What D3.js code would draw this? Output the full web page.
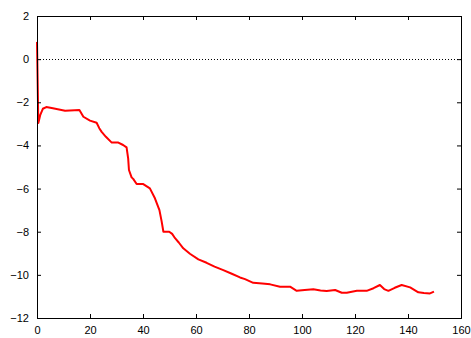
<!DOCTYPE html>
<html>
<head>
<meta charset="utf-8">
<script src="https://cdn.jsdelivr.net/npm/d3@7"></script>
<style>
  body { margin: 0; background: #fff; }
  text { font-family: "Liberation Sans", Arial, sans-serif; font-size: 11px; fill: #000; }
</style>
</head>
<body>
<svg id="chart"></svg>
<script>
const xTicks = [0, 20, 40, 60, 80, 100, 120, 140, 160];
const yTicks = [2, 0, -2, -4, -6, -8, -10, -12];

const seriesX = [0, 0.5, 1.2, 2.2, 3.5, 6, 10.6, 16, 17.5, 20, 22.5, 23.5, 24.4, 26, 28.2, 30.7, 32.5, 33.8, 34.4, 34.7, 35.7,
  36.3, 37.6, 40.1, 42.6, 44.5, 46.2, 47.0, 47.7, 49.9, 51, 52.1, 53.5, 55.2, 57.7, 60.9, 64.0, 67, 70.3, 73.5, 76.6, 78.5, 81.6,
  85, 88, 91.7, 95.5, 98, 101, 104.3, 107, 109.3, 112.5, 115, 116.9, 118.8, 120.7, 124.4, 127, 129.4, 131, 132.6, 135, 137.6, 140.8,
  143.9, 146, 148.3, 149.8];
const seriesY = [0.8, -2.96, -2.6, -2.3, -2.22, -2.28, -2.39, -2.36, -2.67, -2.85, -2.95, -3.2, -3.37, -3.6, -3.87, -3.87, -3.98, -4.09, -4.6, -5.14, -5.48,
  -5.55, -5.79, -5.79, -5.99, -6.45, -7.0, -7.5, -8.0, -8.0, -8.1, -8.3, -8.5, -8.77, -9.02, -9.28, -9.44, -9.62, -9.78, -9.95, -10.12, -10.2, -10.37,
  -10.4, -10.44, -10.55, -10.55, -10.74, -10.7, -10.67, -10.72, -10.75, -10.7, -10.83, -10.83, -10.78, -10.74, -10.74, -10.62, -10.47, -10.66, -10.74, -10.6, -10.47, -10.58,
  -10.81, -10.84, -10.86, -10.78];

const width = 471, height = 338;
const margin = { left: 37, right: 10, top: 16, bottom: 20 };

const svg = d3.select('#chart').attr('width', width).attr('height', height);

const x = d3.scaleLinear().domain([0, 160]).range([margin.left, width - margin.right]);
const y = d3.scaleLinear().domain([-12, 2]).range([height - margin.bottom, margin.top]);

// zero line
svg.append('line')
  .attr('x1', x(0)).attr('x2', x(160))
  .attr('y1', Math.round(y(0)) + 0.5).attr('y2', Math.round(y(0)) + 0.5)
  .attr('stroke', '#000').attr('stroke-width', 1)
  .attr('stroke-dasharray', '1,2');

// data line
const line = d3.line().x((d, i) => x(seriesX[i])).y(d => y(d));
svg.append('path')
  .datum(seriesY)
  .attr('d', line)
  .attr('fill', 'none')
  .attr('stroke', '#ff0000')
  .attr('stroke-width', 2)
  .attr('stroke-linejoin', 'round');

// axes with inward ticks, mirrored
const tick = 4;
svg.append('g').attr('transform', `translate(0,${y(-12)})`)
  .call(d3.axisBottom(x).tickValues(xTicks).tickSize(-tick).tickPadding(8));
svg.append('g').attr('transform', `translate(0,${y(2)})`)
  .call(d3.axisTop(x).tickValues(xTicks).tickSize(-tick).tickFormat(''));
svg.append('g').attr('transform', `translate(${x(0)},0)`)
  .call(d3.axisLeft(y).tickValues(yTicks).tickSize(-tick).tickPadding(8));
svg.append('g').attr('transform', `translate(${x(160)},0)`)
  .call(d3.axisRight(y).tickValues(yTicks).tickSize(-tick).tickFormat(''));

svg.selectAll('.domain').attr('stroke', '#000');
svg.selectAll('.tick line').attr('stroke', '#000');
svg.selectAll('.tick text').style('font-family', '"Liberation Sans", Arial, sans-serif').style('font-size', '11px');
</script>
</body>
</html>
